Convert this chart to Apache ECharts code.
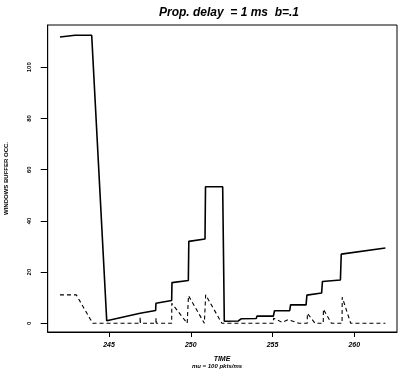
<!DOCTYPE html>
<html>
<head>
<meta charset="utf-8">
<script src="https://cdn.jsdelivr.net/npm/echarts@6/dist/echarts.min.js"></script>
<style>html,body{margin:0;padding:0;background:#fff}#c{width:401px;height:374px}</style>
</head>
<body>
<div id="c"></div>
<script>
// Window (solid) series
var solidTime  = [242.0, 242.92, 243.94, 244.86, 246.9, 246.95, 247.85, 247.87, 248.83, 248.85, 249.85, 249.88, 250.87, 250.9, 251.95, 252.05, 252.9, 253.1, 254.0, 254.05, 255.05, 255.12, 256.05, 256.1, 257.05, 257.1, 258.0, 258.05, 259.15, 259.2, 261.9];
var solidValue = [111.8, 112.5, 112.5, 1.0, 3.9, 4.3, 5.0, 7.8, 8.9, 15.9, 16.7, 32.0, 32.9, 53.3, 53.3, 0.8, 0.9, 1.8, 1.9, 2.8, 2.8, 4.9, 4.9, 7.2, 7.2, 11.0, 11.8, 16.3, 16.9, 27.0, 29.4];
// Buffer occupancy (dashed) series
var dashTime  = [242.0, 243.0, 244.0, 246.9, 246.9, 246.92, 247.87, 247.87, 247.89, 248.83, 248.84, 249.78, 249.85, 249.86, 250.83, 250.9, 250.91, 251.9, 255.05, 255.06, 255.6, 255.95, 256.6, 257.12, 257.13, 257.6, 258.1, 258.11, 258.6, 259.25, 259.26, 259.78, 261.9];
var dashValue = [11.1, 11.1, 0, 0, 2.5, 0, 0, 2.0, 0, 0, 7.8, 0, 0, 10.8, 0, 0, 11.1, 0, 0, 2.0, 0.3, 1.4, 0, 0, 3.9, 0, 0, 5.5, 0, 0, 10.2, 0, 0];
var xTicks = [245, 250, 255, 260];
var yTicks = [0, 20, 40, 60, 80, 100];

function pairs(a, b) { return a.map(function (v, i) { return [v, b[i]]; }); }

var FONT = '"Liberation Sans", Arial, sans-serif';
var chart = echarts.init(document.getElementById('c'), null, {renderer: 'canvas'});
chart.setOption({
  animation: false,
  backgroundColor: '#fff',
  title: {
    text: 'Prop. delay  = 1 ms  b=.1',
    left: 224, top: 2, textAlign: 'center',
    textStyle: {fontFamily: FONT, fontSize: 12, fontStyle: 'italic', fontWeight: 'bold', color: '#000'}
  },
  grid: {left: 47.7, right: 4, top: 25, bottom: 42, outerBoundsMode: 'none', containLabel: false,
         show: true, borderColor: '#000', borderWidth: 1, backgroundColor: 'transparent'},
  xAxis: {
    type: 'value', min: 241.25, max: 262.61,
    splitLine: {show: false},
    axisLine: {show: true, onZero: false, lineStyle: {color: '#000', width: 1}},
    axisTick: {show: true, length: 5, customValues: xTicks, lineStyle: {color: '#000'}},
    axisLabel: {customValues: xTicks, margin: 10, fontFamily: FONT, fontSize: 7, fontStyle: 'italic', fontWeight: 'bold', color: '#000'}
  },
  yAxis: {
    type: 'value', min: -3.4, max: 116.5,
    name: 'WINDOWS BUFFER OCC.', nameLocation: 'middle', nameGap: 38, nameRotate: 90,
    nameTextStyle: {fontFamily: FONT, fontSize: 6, fontWeight: 'bold', color: '#000'},
    splitLine: {show: false},
    axisLine: {show: true, onZero: false, lineStyle: {color: '#000', width: 1}},
    axisTick: {show: true, length: 7, customValues: yTicks, lineStyle: {color: '#000'}},
    axisLabel: {customValues: yTicks, rotate: 90, margin: 15, fontFamily: FONT, fontSize: 6, fontWeight: 'bold', color: '#000'}
  },
  graphic: [
    {type: 'text', x: 222, y: 359.5, style: {text: 'TIME', font: 'italic bold 7px ' + FONT, fill: '#000', align: 'center', verticalAlign: 'middle'}},
    {type: 'text', x: 217, y: 366, style: {text: 'mu = 100 pkts/ms', font: 'italic bold 6px ' + FONT, fill: '#000', align: 'center', verticalAlign: 'middle'}}
  ],
  series: [
    {type: 'line', data: pairs(solidTime, solidValue), showSymbol: false, symbol: 'none', lineStyle: {color: '#000', width: 1.6}},
    {type: 'line', data: pairs(dashTime, dashValue), showSymbol: false, symbol: 'none', lineStyle: {color: '#000', width: 1.1, type: [4, 3]}}
  ]
});
</script>
</body>
</html>
